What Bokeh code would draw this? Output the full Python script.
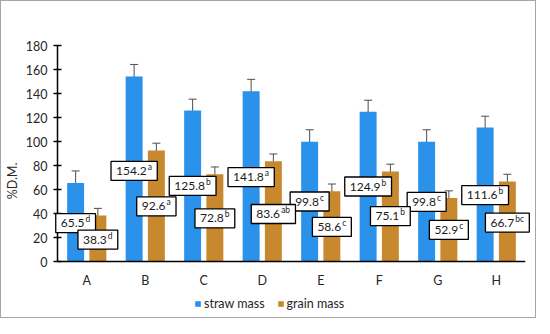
from bokeh.plotting import figure
from bokeh.models import (ColumnDataSource, Whisker, Legend, LegendItem, TeeHead,
                          FactorRange, Range1d, FixedTicker)
from bokeh.transform import dodge
from bokeh.core.properties import value
from bokeh.embed import file_html
from bokeh.resources import INLINE

# ---------------- data ----------------
categories = ["A", "B", "C", "D", "E", "F", "G", "H"]
straw_mass = [65.5, 154.2, 125.8, 141.8, 99.8, 124.9, 99.8, 111.6]
grain_mass = [38.3, 92.6, 72.8, 83.6, 58.6, 75.1, 52.9, 66.7]
straw_err = [10, 10, 9.5, 10, 10, 9.5, 10, 9.5]
grain_err = [6, 6, 6, 6, 6, 6, 6, 6]
straw_letters = ["d", "a", "b", "a", "c", "b", "c", "b"]
grain_letters = ["d", "a", "b", "ab", "c", "b", "c", "bc"]
y_ticks = [0, 20, 40, 60, 80, 100, 120, 140, 160, 180]
# heights (in %D.M.) where the data-label boxes sit
straw_label_y = [32, 75.6, 63, 70.4, 50, 62.5, 49.7, 55.4]
grain_label_y = [18.3, 46, 36, 39.6, 28.8, 37.8, 26.3, 32.5]

STRAW_COLOR = "#2a92ea"
GRAIN_COLOR = "#c8882e"
FONT = "Lato"
NUM_SIZE = 12
SUP_SIZE = 8.5
DODGE = 0.19
Y_MAX = 180
Y_BOTTOM = -45.8   # room under the x axis for category labels and legend

p = figure(width=536, height=318, output_backend="svg", toolbar_location=None,
           x_range=FactorRange(*categories, range_padding=0),
           y_range=Range1d(Y_BOTTOM, Y_MAX),
           min_border_left=53, min_border_top=44, min_border_right=12,
           min_border_bottom=3,
           styles={"border": "1px solid #a6a6a6"})
p.outline_line_color = None
p.xgrid.grid_line_color = None
p.ygrid.grid_line_color = None
p.background_fill_color = "white"
p.border_fill_color = "white"

# axes
p.yaxis.ticker = FixedTicker(ticks=y_ticks)
p.yaxis.bounds = (0, Y_MAX)
p.yaxis.axis_line_color = "black"
p.yaxis.axis_line_width = 1.5
p.yaxis.major_tick_line_color = "black"
p.yaxis.major_tick_line_width = 1.5
p.yaxis.major_tick_in = 4
p.yaxis.major_tick_out = 4
p.yaxis.minor_tick_line_color = None
p.yaxis.major_label_text_font = FONT
p.yaxis.major_label_text_font_size = "12.5px"
p.yaxis.major_label_text_color = "#262626"
p.yaxis.major_label_standoff = 6
p.yaxis.axis_label = "%D.M."
p.yaxis.axis_label_text_font = FONT
p.yaxis.axis_label_text_font_size = "12.5px"
p.yaxis.axis_label_text_font_style = "normal"
p.yaxis.axis_label_text_color = "#262626"
p.yaxis.axis_label_standoff = 3

p.xaxis.fixed_location = 0
p.xaxis.axis_line_color = "black"
p.xaxis.axis_line_width = 1.5
p.xaxis.major_tick_line_color = None
p.xaxis.major_tick_in = 0
p.xaxis.major_tick_out = 0
p.xaxis.major_label_text_font = FONT
p.xaxis.major_label_text_font_size = "12.5px"
p.xaxis.major_label_text_color = "#262626"
p.xaxis.major_label_standoff = 11

DIGIT_W = 0.58
DOT_W = 0.25
SUP_W = {"a": 0.52, "b": 0.58, "c": 0.48, "d": 0.58}


def num_width(s):
    return sum((DOT_W if ch == "." else DIGIT_W) * NUM_SIZE for ch in s)


def sup_width(s):
    return sum(SUP_W.get(ch, 0.5) * SUP_SIZE for ch in s)


legend_items = []
series = [
    ("straw mass", straw_mass, straw_err, straw_letters, straw_label_y, -DODGE, STRAW_COLOR),
    ("grain mass", grain_mass, grain_err, grain_letters, grain_label_y, DODGE, GRAIN_COLOR),
]

label_data = []
for name, vals, errs, letters, ly, off, color in series:
    src = ColumnDataSource(dict(
        cat=categories, val=vals,
        upper=[v + e for v, e in zip(vals, errs)],
        lower=[v - e for v, e in zip(vals, errs)],
    ))
    r = p.vbar(x=dodge("cat", off, range=p.x_range), top="val", width=0.29,
               source=src, fill_color=color, line_color=None)
    legend_items.append(LegendItem(label=name, renderers=[r]))

    w = Whisker(base=dodge("cat", off, range=p.x_range), upper="upper", lower="lower",
                source=src, line_color="#4d4d4d", line_width=1,
                upper_head=TeeHead(size=8, line_color="#4d4d4d", line_width=1),
                lower_head=TeeHead(size=8, line_color="#4d4d4d", line_width=1))
    p.add_layout(w)

    nums = [f"{v:.1f}" for v in vals]
    nw = [num_width(s) for s in nums]
    sw = [sup_width(s) for s in letters]
    bw = [5 + a + 1 + b + 5 for a, b in zip(nw, sw)]
    label_data.append((off, dict(
        cat=categories, ly=ly, num=nums, sup=letters, bw=bw,
        nx=[-b / 2 + 5 for b in bw],
        sx=[-b / 2 + 5 + a + 1 for a, b in zip(nw, bw)],
    )))

for off, d in label_data:
    ls = ColumnDataSource(d)
    xs = dodge("cat", off, range=p.x_range)
    p.rect(x=xs, y="ly", width="bw", height=19, width_units="screen",
           height_units="screen", fill_color="white", line_color="black",
           line_width=1.3, source=ls, level="overlay")
    p.text(x=xs, y="ly", text="num", x_offset="nx", text_align="left",
           text_baseline="middle", text_font=value(FONT),
           text_font_size=f"{NUM_SIZE}px", text_color="#1a1a1a", source=ls,
           level="overlay")
    p.text(x=xs, y="ly", text="sup", x_offset="sx", y_offset=-4,
           text_align="left", text_baseline="middle", text_font=value(FONT),
           text_font_size=f"{SUP_SIZE}px", text_color="#1a1a1a", source=ls,
           level="overlay")

legend = Legend(items=legend_items, orientation="horizontal",
                location=(137, 5), margin=2, padding=2, spacing=12,
                glyph_width=7, glyph_height=7, label_standoff=3,
                label_text_font=FONT, label_text_font_size="12.5px",
                label_text_color="#262626", label_height=16,
                border_line_color=None, background_fill_alpha=0)
p.add_layout(legend, "center")

open("out.html", "w").write(file_html(p, INLINE))
